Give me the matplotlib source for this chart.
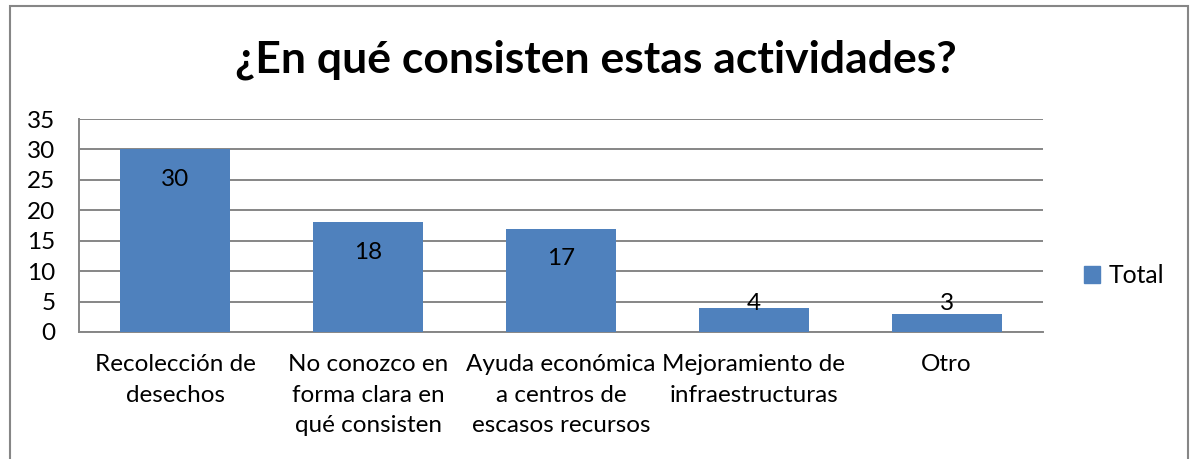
import matplotlib.pyplot as plt
import matplotlib.patches as mpatches
import numpy as np

# ---------------- data ----------------
categories = [
    "Recolección de\ndesechos",
    "No conozco en\nforma clara en\nqué consisten",
    "Ayuda económica\na centros de\nescasos recursos",
    "Mejoramiento de\ninfraestructuras",
    "Otro",
]
values = np.array([30, 18, 17, 4, 3])
series_name = "Total"
title = "¿En qué consisten estas actividades?"
yticks = [0, 5, 10, 15, 20, 25, 30, 35]

bar_color = "#4F81BD"
grid_color = "#868686"

plt.rcParams['font.family'] = ['Lato', 'DejaVu Sans']

fig = plt.figure(figsize=(11.91, 4.59), dpi=100)
ax = fig.add_axes([0.0663, 0.2767, 0.8094, 0.464])

x = np.arange(len(categories))
ax.bar(x, values, width=0.57, color=bar_color, zorder=3, label=series_name)

# value labels, inside end (Excel pushes short bars' labels up)
label_y = np.maximum(values - 4.9, 4.7)
for xi, v, ly in zip(x, values, label_y):
    ax.text(xi, ly, str(v), ha='center', va='center', fontsize=17.5, color='black', zorder=4)

ax.set_xlim(-0.5, len(categories) - 0.5)
ax.set_ylim(0, 35)
ax.set_yticks(yticks)
ax.yaxis.grid(True, color=grid_color, linewidth=1.4, zorder=0)
ax.set_axisbelow(True)

ax.set_xticks(x)
ax.set_xticklabels(categories, fontsize=17.5, linespacing=1.55)
ax.tick_params(axis='x', length=0, pad=16)
ax.tick_params(axis='y', length=0, labelsize=17.5, pad=17)

for side in ['top', 'right']:
    ax.spines[side].set_visible(False)
for side in ['left', 'bottom']:
    ax.spines[side].set_color(grid_color)
    ax.spines[side].set_linewidth(1.4)

fig.text(0.5, 0.87, title, ha='center', va='center', fontsize=32, fontweight='bold')

# legend
handle = mpatches.Patch(color=bar_color, label=series_name)
fig.legend(handles=[handle], loc='center left', bbox_to_anchor=(0.900, 0.399),
           frameon=False, fontsize=17.8, handlelength=0.65, handleheight=0.65,
           handletextpad=0.35, borderpad=0)

# outer chart border (bottom edge runs past the crop)
border = mpatches.Rectangle((10 / 1191, -0.05), 1178 / 1191, 1.05 - 6 / 459,
                            transform=fig.transFigure, fill=False,
                            edgecolor=grid_color, linewidth=1.5, clip_on=False)
fig.patches.append(border)

fig.savefig("out.png", dpi=100)
